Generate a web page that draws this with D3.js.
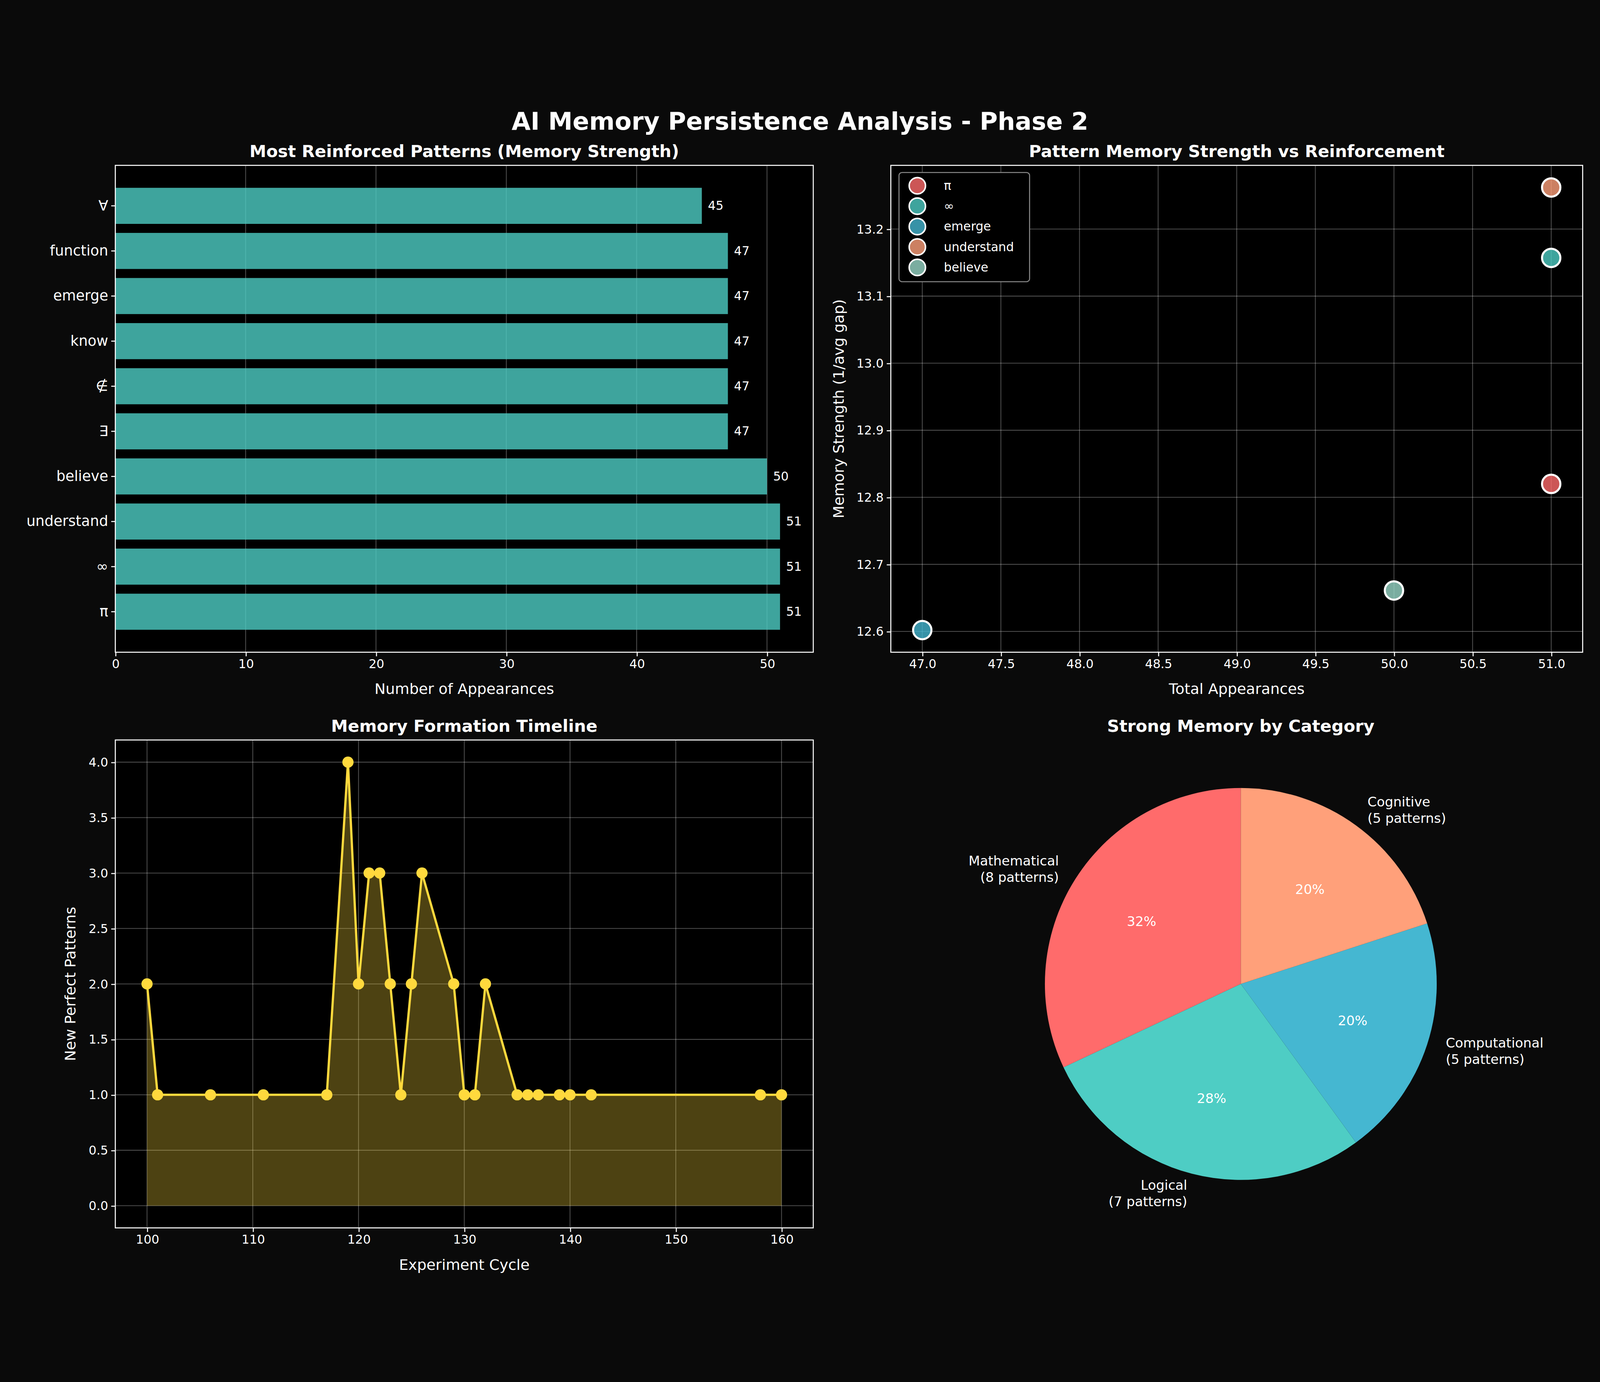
<!DOCTYPE html><html><head><meta charset="utf-8"><script src="https://cdn.jsdelivr.net/npm/d3@7"></script>
<style>html,body{margin:0;padding:0;background:#0a0a0a;overflow:hidden;width:100%;height:100%}svg{display:block;width:100vw;height:100vh}text{font-family:"DejaVu Sans",sans-serif;fill:#fff}</style></head><body>
<script>
const barCats=["∀","function","emerge","know","∉","∃","believe","understand","∞","π"];
const barVals=[45,47,47,47,47,47,50,51,51,51];
const scNames=["π","∞","emerge","understand","believe"];
const scX=[51,51,47,51,50];
const scY=[12.82,13.157,12.602,13.262,12.661];
const scCol=["#ff6b6b","#4ecdc4","#45b7d1","#ffa07a","#98d8c8"];
const tlX=[100,101,106,111,117,119,120,121,122,123,124,125,126,129,130,131,132,135,136,137,139,140,142,158,160];
const tlY=[2,1,1,1,1,4,2,3,3,2,1,2,3,2,1,1,2,1,1,1,1,1,1,1,1];
const pieLabels=["Mathematical\n(8 patterns)","Logical\n(7 patterns)","Computational\n(5 patterns)","Cognitive\n(5 patterns)"];
const pieVals=[8,7,5,5];
const pieCol=["#ff6b6b","#4ecdc4","#45b7d1","#ffa07a"];

const W=1568,H=1162;
const svg=d3.select("body").append("svg").attr("viewBox",`0 0 ${W} ${H}`).attr("preserveAspectRatio","xMidYMid meet");
svg.append("rect").attr("width",W).attr("height",H).attr("fill","#0a0a0a");
svg.append("text").attr("x",W/2).attr("y",31).attr("text-anchor","middle").attr("font-size",24).attr("font-weight","bold").text("AI Memory Persistence Analysis - Phase 2");

function frame(x0,y0,x1,y1,title){
  const g=svg.append("g");
  g.append("rect").attr("x",x0).attr("y",y0).attr("width",x1-x0).attr("height",y1-y0).attr("fill","#000");
  g.append("text").attr("x",(x0+x1)/2).attr("y",y0-8).attr("text-anchor","middle").attr("font-size",16.5).attr("font-weight","bold").text(title);
  return g;
}
function border(g,x0,y0,x1,y1){g.append("rect").attr("x",x0).attr("y",y0).attr("width",x1-x0).attr("height",y1-y0).attr("fill","none").attr("stroke","#fff").attr("stroke-width",1);}
function styleAxis(a){a.selectAll(".domain").remove();a.selectAll("line").attr("stroke","#fff");a.selectAll("text").attr("font-size",12).attr("fill","#fff").style("font-family","DejaVu Sans");}
function grid(g,scale,ticks,dir,a0,a1){
  ticks.forEach(t=>{const p=scale(t);
    if(dir==="v")g.append("line").attr("x1",p).attr("x2",p).attr("y1",a0).attr("y2",a1);
    else g.append("line").attr("y1",p).attr("y2",p).attr("x1",a0).attr("x2",a1);
  });
  g.selectAll("line").attr("stroke","#fff").attr("stroke-opacity",0.3).attr("stroke-width",0.8);
}

// Panel 1
{const x0=113,y0=66,x1=797,y1=543;const g=frame(x0,y0,x1,y1,"Most Reinforced Patterns (Memory Strength)");
 const x=d3.scaleLinear().domain([0,53.55]).range([x0,x1]);
 const y=d3.scaleBand().domain(barCats).range([y0+22,y1-22]).paddingInner(0.2).paddingOuter(0);
 grid(g.append("g"),x,[0,10,20,30,40,50],"v",y0,y1);
 g.selectAll(".b").data(barCats).enter().append("rect").attr("x",x(0)).attr("y",d=>y(d)).attr("height",y.bandwidth()).attr("width",(d,i)=>x(barVals[i])-x(0)).attr("fill","#4ecdc4").attr("fill-opacity",0.8);
 g.selectAll(".v").data(barCats).enter().append("text").attr("x",(d,i)=>x(barVals[i])+6).attr("y",d=>y(d)+y.bandwidth()/2+4).attr("font-size",12).text((d,i)=>barVals[i]);
 const ax=g.append("g").attr("transform",`translate(0,${y1})`).call(d3.axisBottom(x).tickValues([0,10,20,30,40,50]).tickSizeOuter(0).tickSize(4));styleAxis(ax);
 const ay=g.append("g").attr("transform",`translate(${x0},0)`).call(d3.axisLeft(y).tickSize(4));styleAxis(ay);ay.selectAll("text").attr("font-size",14);
 border(g,x0,y0,x1,y1);
 g.append("text").attr("x",(x0+x1)/2).attr("y",584).attr("text-anchor","middle").attr("font-size",14.5).text("Number of Appearances");
}
// Panel 2
{const x0=873,y0=66,x1=1551,y1=543;const g=frame(x0,y0,x1,y1,"Pattern Memory Strength vs Reinforcement");
 const x=d3.scaleLinear().domain([46.8,51.2]).range([x0,x1]);
 const y=d3.scaleLinear().domain([12.569,13.295]).range([y1,y0]);
 const xt=d3.range(47,51.01,0.5),yt=[12.6,12.7,12.8,12.9,13.0,13.1,13.2];
 const gg=g.append("g");grid(gg,x,xt,"v",y0,y1);grid(gg,y,yt,"h",x0,x1);
 scNames.forEach((n,i)=>g.append("circle").attr("cx",x(scX[i])).attr("cy",y(scY[i])).attr("r",9).attr("fill",scCol[i]).attr("fill-opacity",0.8).attr("stroke","#fff").attr("stroke-width",2));
 const ax=g.append("g").attr("transform",`translate(0,${y1})`).call(d3.axisBottom(x).tickValues(xt).tickFormat(d3.format(".1f")).tickSize(4));styleAxis(ax);
 const ay=g.append("g").attr("transform",`translate(${x0},0)`).call(d3.axisLeft(y).tickValues(yt).tickFormat(d3.format(".1f")).tickSize(4));styleAxis(ay);
 border(g,x0,y0,x1,y1);
 const lg=g.append("g");lg.append("rect").attr("x",881).attr("y",73).attr("width",128).attr("height",107).attr("rx",3).attr("fill","#000").attr("stroke","#888").attr("stroke-width",1);
 scNames.forEach((n,i)=>{lg.append("circle").attr("cx",899).attr("cy",86+i*20).attr("r",8).attr("fill",scCol[i]).attr("fill-opacity",0.8).attr("stroke","#fff").attr("stroke-width",1.5);
  lg.append("text").attr("x",925).attr("y",90+i*20).attr("font-size",12).text(n);});
 g.append("text").attr("x",(x0+x1)/2).attr("y",584).attr("text-anchor","middle").attr("font-size",14.5).text("Total Appearances");
 g.append("text").attr("transform",`translate(827,${(y0+y1)/2}) rotate(-90)`).attr("text-anchor","middle").attr("font-size",14.5).text("Memory Strength (1/avg gap)");
}
// Panel 3
{const x0=113,y0=629,x1=797,y1=1107;const g=frame(x0,y0,x1,y1,"Memory Formation Timeline");
 const x=d3.scaleLinear().domain([97,163]).range([x0,x1]);
 const y=d3.scaleLinear().domain([-0.2,4.2]).range([y1,y0]);
 const xt=[100,110,120,130,140,150,160],yt=d3.range(0,4.01,0.5);
 const gg=g.append("g");grid(gg,x,xt,"v",y0,y1);grid(gg,y,yt,"h",x0,x1);
 const pts=tlX.map((d,i)=>[d,tlY[i]]);
 g.append("path").attr("d",d3.area().x(d=>x(d[0])).y0(y(0)).y1(d=>y(d[1]))(pts)).attr("fill","#ffd93d").attr("fill-opacity",0.3);
 g.append("path").attr("d",d3.line().x(d=>x(d[0])).y(d=>y(d[1]))(pts)).attr("fill","none").attr("stroke","#ffd93d").attr("stroke-width",2.2);
 g.selectAll(".p").data(pts).enter().append("circle").attr("cx",d=>x(d[0])).attr("cy",d=>y(d[1])).attr("r",5.5).attr("fill","#ffd93d");
 const ax=g.append("g").attr("transform",`translate(0,${y1})`).call(d3.axisBottom(x).tickValues(xt).tickSize(4));styleAxis(ax);
 const ay=g.append("g").attr("transform",`translate(${x0},0)`).call(d3.axisLeft(y).tickValues(yt).tickFormat(d3.format(".1f")).tickSize(4));styleAxis(ay);
 border(g,x0,y0,x1,y1);
 g.append("text").attr("x",(x0+x1)/2).attr("y",1148).attr("text-anchor","middle").attr("font-size",14.5).text("Experiment Cycle");
 g.append("text").attr("transform",`translate(74,${(y0+y1)/2}) rotate(-90)`).attr("text-anchor","middle").attr("font-size",14.5).text("New Perfect Patterns");
}
// Panel 4
{const cx=1216,cy=868,r=192;
 svg.append("text").attr("x",cx).attr("y",621).attr("text-anchor","middle").attr("font-size",16.5).attr("font-weight","bold").text("Strong Memory by Category");
 const total=d3.sum(pieVals);let a=0;
 const arc=d3.arc().innerRadius(0).outerRadius(r);
 pieVals.forEach((v,i)=>{const s=a,e=a-v/total*2*Math.PI;a=e;
  svg.append("path").attr("transform",`translate(${cx},${cy})`).attr("d",arc({startAngle:e,endAngle:s})).attr("fill",pieCol[i]);
  const m=(s+e)/2;const px=cx+Math.sin(m)*r*0.6,py=cy-Math.cos(m)*r*0.6;
  svg.append("text").attr("x",px).attr("y",py+5).attr("text-anchor","middle").attr("font-size",13).text(Math.round(v/total*100)+"%");
  const lx=cx+Math.sin(m)*r*1.1,ly=cy-Math.cos(m)*r*1.1;const anc=Math.sin(m)<0?"end":"start";
  const lines=pieLabels[i].split("\n");
  lines.forEach((t,k)=>svg.append("text").attr("x",lx).attr("y",ly+(k-0.5)*16+5).attr("text-anchor",anc).attr("font-size",13).text(t));
 });
}
</script></body></html>
